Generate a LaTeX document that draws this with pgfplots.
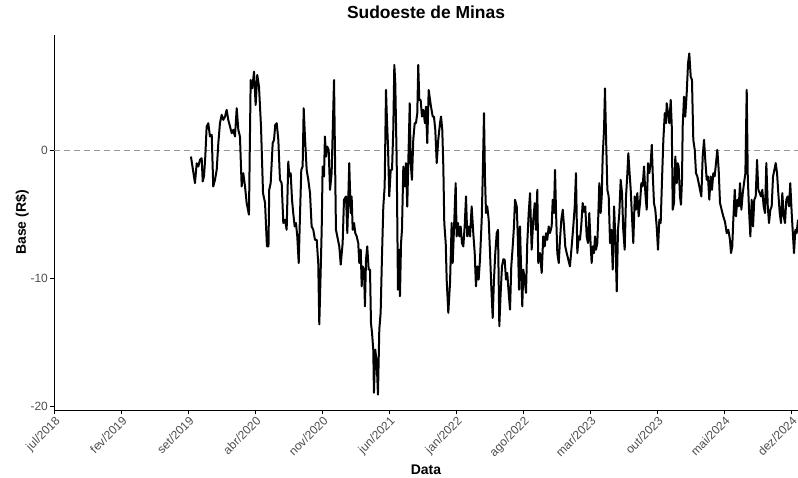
\documentclass[border=0pt]{standalone}
\usepackage{fontspec}
\setmainfont{Liberation Sans}
\usepackage{pgfplots}
\pgfplotsset{compat=1.18}
\definecolor{grey30}{HTML}{4D4D4D}
\definecolor{zeroline}{RGB}{150,150,150}
\begin{document}
\begin{tikzpicture}
\useasboundingbox (-54bp,-68bp) rectangle (744bp,410bp);
\begin{axis}[
  at={(0,0)}, anchor=south west,
  width=744bp, height=375bp, scale only axis,
  xmin=-0.05, xmax=77.69, ymin=-20.3, ymax=9.04,
  axis x line*=bottom, axis y line*=left,
  axis line style={black, line width=0.9bp, -},
  xtick={0,7,14,21,28,35,42,49,56,63,70,77},
  xticklabels={jul/2018,fev/2019,set/2019,abr/2020,nov/2020,jun/2021,jan/2022,ago/2022,mar/2023,out/2023,mai/2024,dez/2024},
  ytick={-20,-10,0}, yticklabels={-20,-10,0},
  tick align=outside, major tick length=4bp,
  tick style={black, line width=0.9bp},
  every tick label/.append style={text=grey30, font=\fontsize{12}{13}\selectfont},
  xticklabel style={rotate=45, anchor=north east, inner sep=1bp},
  yticklabel style={anchor=east, inner sep=2bp},
  title={Sudoeste de Minas},
  title style={at={(rel axis cs:0.5,1)}, anchor=base, yshift=11bp, font=\bfseries\fontsize{17.5}{20}\selectfont},
  xlabel={Data},
  xlabel style={at={(rel axis cs:0.5,0)}, anchor=base, yshift=-64bp, font=\bfseries\fontsize{14}{16}\selectfont},
  ylabel={Base (R\$)},
  ylabel style={at={(rel axis cs:0,0.5)}, anchor=base, yshift=28bp, font=\bfseries\fontsize{14}{16}\selectfont},
  clip=true,
]
\addplot[zeroline, line width=0.9bp, dash pattern=on 6bp off 4bp, forget plot] coordinates {(-0.05,0) (77.69,0)};
\addplot[black, line width=2bp, mark=none, line join=round] coordinates {
(14.26,-0.47) (14.68,-2.55) (14.86,-1.00) (15.03,-1.25) (15.20,-0.73) (15.38,-0.60) (15.49,-2.42) (15.62,-2.03)
(15.76,-0.47) (15.90,1.88) (16.07,2.14) (16.25,1.10) (16.43,1.23) (16.59,-2.81) (16.77,-2.29) (16.95,-1.51)
(17.12,0.58) (17.29,2.14) (17.47,2.79) (17.64,2.40) (17.82,2.66) (17.99,3.18) (18.16,2.40) (18.34,1.88)
(18.52,1.36) (18.68,1.62) (18.86,1.10) (19.04,3.31) (19.21,1.62) (19.38,1.10) (19.56,-2.81) (19.73,-1.77)
(19.91,-2.81) (20.08,-4.11) (20.32,-5.02) (20.50,5.52) (20.67,4.87) (20.85,6.17) (21.02,3.57) (21.19,5.91)
(21.37,5.00) (21.58,1.88) (21.79,-3.33) (22.00,-4.10) (22.20,-7.50) (22.36,-7.50) (22.44,-3.07) (22.59,-2.55)
(22.80,0.58) (22.94,0.84) (23.07,2.01) (23.22,2.14) (23.39,0.84) (23.56,-2.29) (23.74,-2.55) (23.91,-5.67)
(24.09,-5.41) (24.26,-6.20) (24.43,-0.86) (24.53,-2.03) (24.68,-1.77) (24.82,-3.85) (24.95,-4.90) (25.10,-5.94)
(25.23,-5.67) (25.37,-6.72) (25.52,-8.80) (25.65,-5.15) (25.79,-1.51) (25.93,-1.25) (26.04,3.31) (26.17,1.10)
(26.35,-1.51) (26.52,-2.29) (26.70,-3.33) (26.87,-5.94) (27.04,-6.20) (27.22,-6.98) (27.40,-6.98) (27.56,-8.80)
(27.67,-13.60) (27.81,-9.60) (27.92,-6.20) (28.02,-1.25) (28.16,-2.03) (28.26,1.10) (28.37,-0.47) (28.50,0.31)
(28.65,0.05) (28.79,-3.07) (28.96,-1.77) (29.21,5.52) (29.41,-6.20) (29.55,-6.72) (29.76,-7.50) (29.91,-8.93)
(30.11,-7.24) (30.25,-3.85) (30.46,-3.59) (30.60,-6.46) (30.80,-0.99) (30.95,-4.89) (31.05,-3.59) (31.16,-6.20)
(31.30,-5.67) (31.43,-6.46) (31.58,-6.72) (31.74,-7.24) (31.85,-8.80) (32.00,-7.76) (32.10,-10.63) (32.20,-9.06)
(32.34,-9.32) (32.44,-12.19) (32.55,-8.54) (32.68,-7.50) (32.83,-9.32) (32.97,-9.32) (33.07,-13.49) (33.18,-14.27)
(33.31,-15.57) (33.38,-18.95) (33.52,-15.57) (33.67,-16.61) (33.80,-19.09) (33.94,-14.01) (34.08,-12.70) (34.22,-8.28)
(34.36,-4.38) (34.50,-2.81) (34.64,4.74) (34.74,2.40) (34.85,0.31) (34.98,-3.59) (35.13,-1.51) (35.27,-1.51)
(35.40,1.62) (35.51,6.70) (35.61,5.26) (35.76,-0.99) (35.89,-10.89) (36.03,-7.76) (36.10,-11.40) (36.21,-7.24)
(36.31,-6.20) (36.45,-1.25) (36.59,-2.81) (36.73,-0.99) (36.86,-4.38) (37.01,0.31) (37.12,3.70) (37.22,-0.99)
(37.35,-2.29) (37.49,0.84) (37.64,2.14) (37.77,2.14) (37.91,2.92) (38.01,6.70) (38.12,3.96) (38.26,3.96)
(38.40,2.66) (38.54,3.18) (38.71,2.14) (38.82,3.44) (38.95,0.58) (39.10,4.74) (39.34,3.44) (39.52,2.66)
(39.65,2.66) (39.79,1.62) (39.94,-0.98) (40.10,0.84) (40.28,2.14) (40.39,2.66) (40.52,1.62) (40.63,-1.25)
(40.73,-5.67) (40.88,-7.24) (40.98,-10.10) (41.15,-12.70) (41.33,-10.36) (41.50,-5.67) (41.61,-8.80) (41.74,-6.20)
(41.92,-2.55) (42.02,-6.72) (42.16,-5.67) (42.30,-6.72) (42.44,-5.94) (42.58,-7.24) (42.72,-7.50) (42.86,-5.94)
(43.00,-3.59) (43.13,-6.72) (43.28,-5.94) (43.42,-6.72) (43.59,-4.37) (43.76,-6.46) (43.91,-8.02) (44.04,-10.63)
(44.18,-9.06) (44.32,-10.10) (44.46,-8.54) (44.64,-5.41) (44.74,-2.29) (44.88,2.92) (44.98,-2.03) (45.09,-4.89)
(45.22,-4.37) (45.37,-5.41) (45.51,-8.02) (45.64,-10.63) (45.79,-13.10) (45.92,-10.10) (46.06,-8.02) (46.21,-6.46)
(46.34,-6.20) (46.48,-13.75) (46.62,-11.14) (46.76,-9.06) (46.90,-8.50) (47.04,-8.54) (47.18,-10.10) (47.31,-9.58)
(47.46,-11.14) (47.60,-12.45) (47.73,-9.06) (47.88,-7.50) (48.01,-5.94) (48.12,-3.85) (48.30,-4.37) (48.40,-6.46)
(48.54,-10.89) (48.64,-5.94) (48.74,-8.80) (48.88,-12.19) (48.99,-9.32) (49.13,-10.10) (49.27,-11.14) (49.40,-7.24)
(49.55,-4.89) (49.69,-3.33) (49.86,-7.76) (50.03,-5.41) (50.18,-4.11) (50.31,-6.20) (50.45,-3.07) (50.55,-8.80)
(50.73,-8.02) (50.91,-9.58) (51.07,-6.72) (51.22,-7.50) (51.36,-6.46) (51.49,-6.98) (51.64,-5.94) (51.77,-6.46)
(51.95,-5.94) (52.06,-3.85) (52.19,-4.89) (52.30,-1.51) (52.41,-4.89) (52.54,-8.02) (52.69,-8.80) (52.82,-6.98)
(52.96,-5.41) (53.11,-4.63) (53.24,-5.94) (53.37,-7.50) (53.52,-8.02) (53.69,-8.54) (53.86,-9.06) (54.04,-7.50)
(54.21,-5.94) (54.36,-4.37) (54.49,-1.77) (54.63,-8.02) (54.78,-6.72) (54.91,-6.98) (55.05,-5.80) (55.19,-4.11)
(55.33,-4.80) (55.46,-4.38) (55.61,-6.72) (55.75,-7.24) (55.88,-4.89) (56.03,-7.50) (56.13,-8.80) (56.24,-7.50)
(56.37,-8.02) (56.48,-6.72) (56.58,-7.76) (56.72,-7.24) (56.82,-5.15) (56.93,-2.55) (57.07,-4.89) (57.18,-3.59)
(57.28,-0.47) (57.42,1.62) (57.52,4.87) (57.63,1.10) (57.77,-3.07) (57.91,-3.59) (58.05,-7.24) (58.19,-6.20)
(58.33,-9.32) (58.47,-4.37) (58.60,-6.72) (58.75,-11.02) (58.88,-6.20) (59.02,-4.89) (59.16,-2.29) (59.30,-3.33)
(59.43,-6.20) (59.58,-7.76) (59.72,-3.59) (59.86,-1.77) (59.96,-0.21) (60.07,-1.51) (60.21,-3.07) (60.34,-5.15)
(60.48,-7.24) (60.63,-3.59) (60.76,-4.63) (60.90,-3.33) (61.04,-5.15) (61.18,-4.11) (61.32,-2.55) (61.46,-2.81)
(61.60,-1.25) (61.74,-3.33) (61.88,-4.63) (62.02,-0.99) (62.15,-1.77) (62.30,-0.99) (62.41,0.45) (62.51,-1.77)
(62.64,-4.11) (62.78,-4.63) (62.92,-5.93) (63.06,-7.76) (63.20,-5.41) (63.34,-5.67) (63.48,-2.30) (63.62,0.84)
(63.77,2.92) (63.90,2.14) (63.97,3.70) (64.11,2.92) (64.24,2.14) (64.39,3.96) (64.50,1.88) (64.60,-4.63)
(64.73,-4.11) (64.87,-0.47) (65.02,-2.55) (65.12,-0.99) (65.22,-1.25) (65.36,-3.59) (65.46,-4.24) (65.57,-2.29)
(65.64,1.88) (65.78,4.22) (65.91,2.66) (66.06,4.48) (66.20,6.82) (66.33,7.60) (66.48,5.78) (66.61,5.52)
(66.75,0.84) (66.90,0.05) (67.03,-1.77) (67.17,-2.03) (67.31,-2.55) (67.45,-3.07) (67.59,-3.59) (67.73,-0.47)
(67.87,0.84) (68.00,-0.73) (68.15,-2.29) (68.28,-2.03) (68.42,-3.85) (68.57,-2.03) (68.70,-3.07) (68.84,-1.77)
(68.98,-2.03) (69.12,-0.99) (69.26,0.05) (69.40,-1.51) (69.54,-4.11) (69.71,-4.63) (69.88,-5.15) (70.06,-5.57)
(70.24,-6.46) (70.41,-6.20) (70.58,-6.98) (70.69,-8.02) (70.82,-7.50) (70.93,-5.41) (71.08,-3.07) (71.21,-5.15)
(71.35,-3.85) (71.50,-4.37) (71.63,-2.55) (71.77,-4.63) (71.92,-3.33) (72.05,-2.55) (72.19,-1.77) (72.33,4.74)
(72.44,-2.03) (72.57,-4.63) (72.71,-6.72) (72.85,-3.85) (72.99,-5.94) (73.12,-3.85) (73.27,-3.59) (73.41,-0.73)
(73.54,-3.07) (73.69,-3.33) (73.82,-3.59) (73.96,-3.07) (74.10,-4.37) (74.24,-4.89) (74.38,-0.98) (74.53,-4.37)
(74.66,-5.67) (74.80,-4.63) (74.94,-4.37) (75.08,-2.03) (75.22,-1.51) (75.36,-0.98) (75.50,-1.77) (75.63,-3.33)
(75.78,-4.89) (75.91,-5.67) (76.05,-3.33) (76.20,-5.15) (76.33,-5.67) (76.47,-3.85) (76.61,-3.59) (76.75,-4.37)
(76.88,-2.55) (77.03,-4.89) (77.17,-6.72) (77.27,-8.02) (77.41,-6.20) (77.55,-6.46) (77.69,-5.41)
};
\end{axis}
\end{tikzpicture}
\end{document}
